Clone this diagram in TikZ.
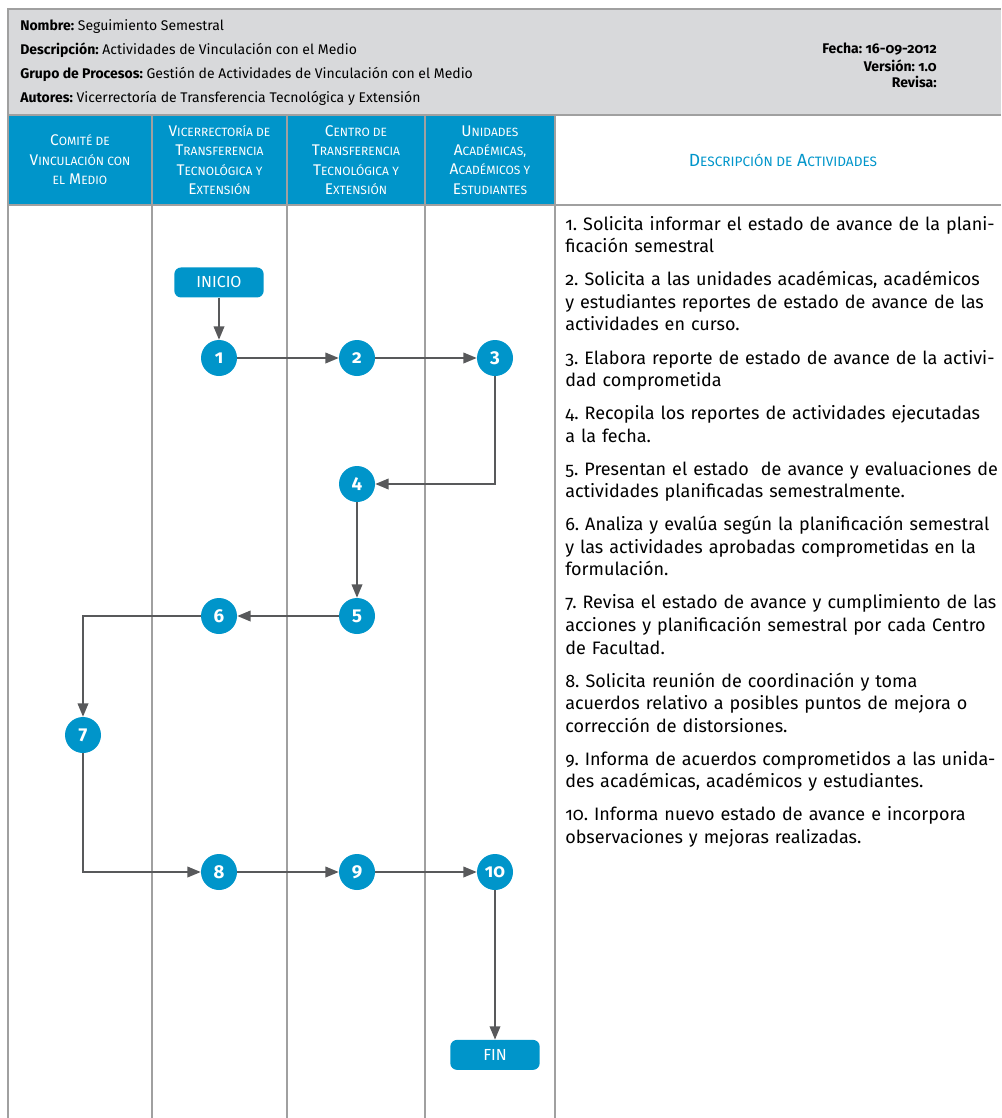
\documentclass[tikz,border=0pt]{standalone}
\usepackage{fontspec}
\setmainfont{Fira Sans}[Numbers=OldStyle]
\usetikzlibrary{arrows.meta, positioning}
\definecolor{azul}{RGB}{0,149,202}
\definecolor{gris}{RGB}{216,217,219}
\definecolor{linea}{RGB}{160,160,160}
\definecolor{flecha}{RGB}{88,89,91}
\newlength\lowsize
\newcommand\lowc[1]{{\fontsize{\lowsize}{14.6}\selectfont #1}}
\frenchspacing

\begin{document}
\begin{tikzpicture}[x=0.75pt, y=-0.75pt,
    main/.style={circle, fill=azul, text=white, font=\bfseries\fontsize{14}{14}\selectfont, minimum size=27pt, inner sep=0pt},
    term/.style={rectangle, rounded corners=5pt, fill=azul, text=white, font=\fontsize{12}{12}\selectfont, minimum width=67pt, minimum height=22.5pt},
    lane/.style={text=white, align=center, font=\setlength\lowsize{9pt}\fontsize{11.6}{14.6}\selectfont},
    info/.style={anchor=west, inner sep=0pt, font=\fontsize{10.5}{12}\selectfont},
    flow/.style={draw=flecha, line width=1.1pt, -{Triangle[length=10pt, width=8pt]}}]
        \useasboundingbox (0,0) rectangle (1001,1118);
        \fill[gris] (8,9) rectangle (1001,115);
        \fill[azul] (8,115) rectangle (555,205);
        \draw[linea, line width=1pt] (8,1118) -- (8,9) -- (1001,9);
        \draw[linea, line width=1pt] (8,115) -- (1001,115) (8,205) -- (1001,205);
        \foreach \x in {152,287,425,555}
            \draw[linea, line width=1pt] (\x,115) -- (\x,1118);

        \node[info] (nombre) at (20,27) {\textbf{Nombre:} Seguimiento Semestral};
        \node[info] (descripcion) at (20,50) {\textbf{Descripción:} Actividades de Vinculación con el Medio};
        \node[info] (grupo) at (20,74) {\textbf{Grupo de Procesos:} Gestión de Actividades de Vinculación con el Medio};
        \node[info] (autores) at (20,98) {\textbf{Autores:} Vicerrectoría de Transferencia Tecnológica y Extensión};
        \node[info, anchor=east, font=\bfseries\fontsize{10.5}{12}\selectfont] (fecha) at (937,49) {Fecha: 16-09-2012};
        \node[info, anchor=east, font=\bfseries\fontsize{10.5}{12}\selectfont] (version) at (937,66) {Versión: 1.0};
        \node[info, anchor=east, font=\bfseries\fontsize{10.5}{12}\selectfont] (revisa) at (937,82) {Revisa:};

        \node[lane] (comite) at (80,160) {C\lowc{OMITÉ DE}\\ V\lowc{INCULACIÓN CON}\\ \lowc{EL} M\lowc{EDIO}};
        \node[lane] (vicerrectoria) at (219.5,160) {V\lowc{ICERRECTORÍA DE}\\ T\lowc{RANSFERENCIA}\\ T\lowc{ECNOLÓGICA Y}\\ E\lowc{XTENSIÓN}};
        \node[lane] (centro) at (356,160) {C\lowc{ENTRO DE}\\ T\lowc{RANSFERENCIA}\\ T\lowc{ECNOLÓGICA Y}\\ E\lowc{XTENSIÓN}};
        \node[lane] (unidades) at (490,160) {U\lowc{NIDADES}\\ A\lowc{CADÉMICAS,}\\ A\lowc{CADÉMICOS Y}\\ E\lowc{STUDIANTES}};
        \node[lane, text=azul, font=\setlength\lowsize{10.2pt}\fontsize{13.2}{14.6}\selectfont] (actividades) at (783,160) {D\lowc{ESCRIPCIÓN DE} A\lowc{CTIVIDADES}};

        \node[anchor=north west, inner sep=0pt, text width=420pt, align=left, font=\fontsize{13.5}{16.9}\selectfont,
            execute at begin node={\setlength{\parskip}{7.9pt}}] (desc) at (565,216) {%
            1. Solicita informar el estado de avance de la plani-\\ficación semestral\par
            2. Solicita a las unidades académicas, académicos\\ y estudiantes reportes de estado de avance de las\\ actividades en curso.\par
            3. Elabora reporte de estado de avance de la activi-\\dad comprometida\par
            4. Recopila los reportes de actividades ejecutadas\\ a la fecha.\par
            5. Presentan el estado\ \ de avance y evaluaciones de\\ actividades planificadas semestralmente.\par
            6. Analiza y evalúa según la planificación semestral\\ y las actividades aprobadas comprometidas en la\\ formulación.\par
            7. Revisa el estado de avance y cumplimiento de las\\ acciones y planificación semestral por cada Centro\\ de Facultad.\par
            8. Solicita reunión de coordinación y toma\\ acuerdos relativo a posibles puntos de mejora o\\ corrección de distorsiones.\par
            9. Informa de acuerdos comprometidos a las unida-\\des académicas, académicos y estudiantes.\par
            10. Informa nuevo estado de avance e incorpora\\ observaciones y mejoras realizadas.};

        \node[main] (1) at (219,358) {1};
        \node[main] (2) at (357,358) {2};
        \node[main] (3) at (495,358) {3};
        \node[main] (4) at (357,484) {4};
        \node[main] (5) at (357,616) {5};
        \node[main] (6) at (219,616) {6};
        \node[main] (7) at (83,735) {7};
        \node[main] (8) at (219,872) {8};
        \node[main] (9) at (357,872) {9};
        \node[main] (10) at (495,872) {10};
        \node[term] (inicio) [above=31.5pt of 1] {INICIO};
        \node[term] (fin) [below=112pt of 10] {FIN};

        \draw[flow] (inicio) -- (1);
        \draw[flow] (1) -- (2);
        \draw[flow] (2) -- (3);
        \draw[flow] (3) |- (4);
        \draw[flow] (4) -- (5);
        \draw[flow] (5) -- (6);
        \draw[flow] (6) -| (7);
        \draw[flow] (7) |- (8);
        \draw[flow] (8) -- (9);
        \draw[flow] (9) -- (10);
        \draw[flow] (10) -- (fin);
    \end{tikzpicture}
\end{document}
